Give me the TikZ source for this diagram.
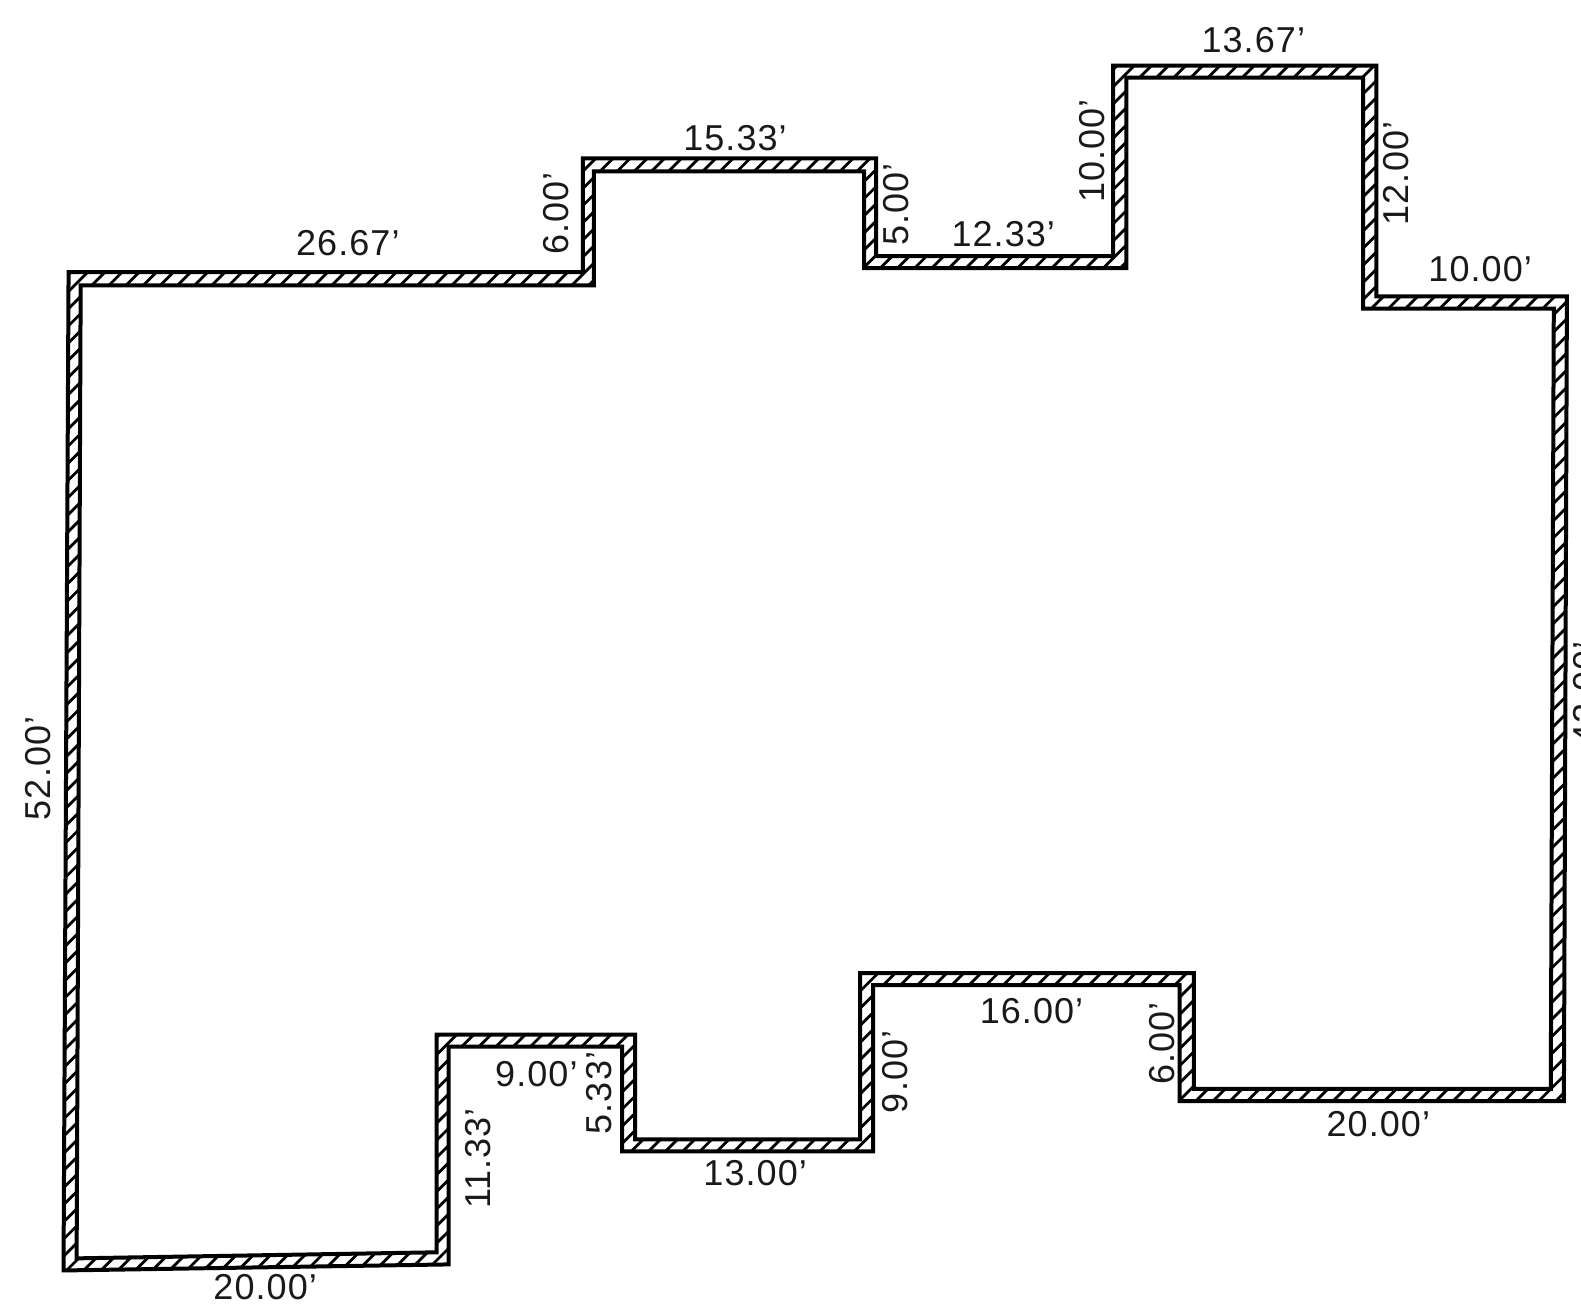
\documentclass[tikz,border=0pt]{standalone}
\usepackage{fontspec}
\setmainfont[LetterSpace=3]{Liberation Sans}
\tikzset{
  wall/.style={line width=2pt,line join=miter,black},
  hatchline/.style={line width=1.4pt,black},
  dimh/.style={font=\fontsize{18pt}{20pt}\selectfont,inner sep=0pt,text=black!90},
  dimv/.style={dimh,rotate=90},
}
\newcommand{\outerpath}{(68,270)--(578,270)--(578,157)--(869,157)--(869,254)--(1104,254)--(1104,65)--(1365,65)--(1365,294)--(1554,294)--(1551,1092)--(1170,1092)--(1170,977)--(866,977)--(866,1142)--(617,1142)--(617,1038)--(445,1038)--(445,1254)--(63,1260)--cycle}
\newcommand{\innerpath}{(80,283)--(589,283)--(589,170)--(857,170)--(857,266)--(1117,266)--(1117,77)--(1352,77)--(1352,306)--(1541,306)--(1538,1080)--(1184,1080)--(1184,965)--(853,965)--(853,1130)--(630,1130)--(630,1026)--(433,1026)--(433,1242)--(76,1248)--cycle}
\begin{document}
\begin{tikzpicture}[x=0.50415pt,y=-0.50415pt]
\useasboundingbox (0,0) rectangle (1568,1293.3);
\begin{scope}
  \clip \outerpath;
  \foreach \k in {0,17,...,2950}{
    \draw[hatchline] (\k,0) -- ++(-1300,1300);
  }
\end{scope}
\fill[white] \innerpath;
\draw[wall] \outerpath;
\draw[wall] \innerpath;
\node[dimh] (a) at (345,241) {26.67'};
\node[dimv] (b) at (552,212) {6.00'};
\node[dimh] (c) at (729,137) {15.33'};
\node[dimv] (d) at (889,203) {5.00'};
\node[dimh] (e) at (995,232) {12.33'};
\node[dimv] (f) at (1083,150) {10.00'};
\node[dimh] (g) at (1243,40) {13.67'};
\node[dimv] (h) at (1385,172) {12.00'};
\node[dimh] (i) at (1468,267) {10.00'};
\node[dimv] (j) at (1573,687) {42.00'};
\node[dimh] (k) at (1367,1115) {20.00'};
\node[dimv] (l) at (1153,1035) {6.00'};
\node[dimh] (m) at (1023,1003) {16.00'};
\node[dimv] (n) at (888,1063) {9.00'};
\node[dimh] (o) at (749,1163) {13.00'};
\node[dimv] (p) at (594,1084) {5.33'};
\node[dimh] (q) at (532,1065) {9.00'};
\node[dimv] (r) at (474,1149) {11.33'};
\node[dimh] (s) at (263,1277) {20.00'};
\node[dimv] (t) at (38,762) {52.00'};
\end{tikzpicture}
\end{document}
